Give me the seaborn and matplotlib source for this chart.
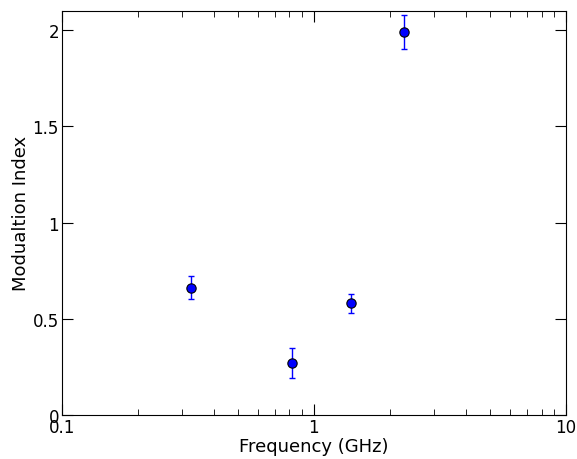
import matplotlib
matplotlib.use("Agg")
import matplotlib.pyplot as plt
import seaborn as sns
import numpy as np
from matplotlib.ticker import FixedLocator, FixedFormatter, LogLocator, NullFormatter

freq = [0.325, 0.82, 1.40, 2.28]
mod = [0.66, 0.27, 0.58, 1.99]
err = [0.06, 0.08, 0.05, 0.09]

sns.set_style("ticks")
plt.rcParams.update({"text.color": "black", "axes.labelcolor": "black",
                     "xtick.color": "black", "ytick.color": "black", "axes.edgecolor": "black"})
fig, ax = plt.subplots(figsize=(5.77, 4.6), dpi=100)
fig.subplots_adjust(left=0.107, right=0.981, top=0.974, bottom=0.096)
ax.errorbar(freq, mod, yerr=err, fmt="none", ecolor="blue", elinewidth=1, capsize=2)
sns.scatterplot(x=freq, y=mod, ax=ax, color="blue", edgecolor="black", s=45, zorder=3, linewidth=0.8)
ax.set_xscale("log")
ax.set_xlim(0.1, 10)
ax.set_ylim(0, 2.1)
ax.xaxis.set_major_locator(FixedLocator([0.1, 1, 10]))
ax.xaxis.set_major_formatter(FixedFormatter(["0.1", "1", "10"]))
ax.xaxis.set_minor_locator(LogLocator(subs=np.arange(2, 10)))
ax.xaxis.set_minor_formatter(NullFormatter())
ax.set_yticks([0, 0.5, 1, 1.5, 2])
ax.set_yticklabels(["0", "0.5", "1", "1.5", "2"])
ax.tick_params(which="both", direction="in", top=True, right=True, labelsize=12, pad=2)
ax.tick_params(which="major", length=8)
ax.tick_params(which="minor", length=4)
ax.set_xlabel("Frequency (GHz)", fontsize=13, labelpad=1)
ax.set_ylabel("Modualtion Index", fontsize=13, labelpad=2)
fig.savefig("out.png")
